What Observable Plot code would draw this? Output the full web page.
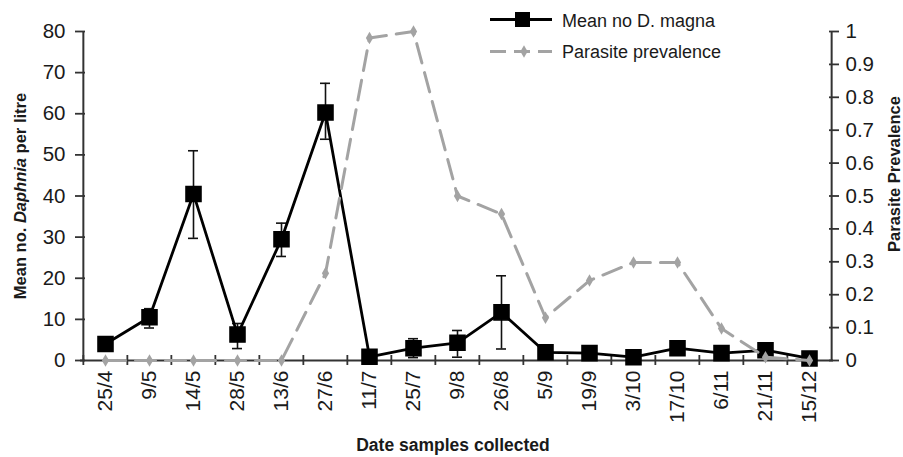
<!DOCTYPE html>
<html>
<head>
<meta charset="utf-8">
<script src="https://cdn.jsdelivr.net/npm/d3@7"></script>
<script src="https://cdn.jsdelivr.net/npm/@observablehq/plot@0.6"></script>
<style>
  html, body { margin: 0; padding: 0; background: #fff; }
  #chart svg { display: block; }
</style>
</head>
<body>
<div id="chart"></div>
<script>
// ---- data ----
const dates = ["25/4","9/5","14/5","28/5","13/6","27/6","11/7","25/7","9/8","26/8","5/9","19/9","3/10","17/10","6/11","21/11","15/12"];
const meanDaphnia = [4, 10.5, 40.5, 6.3, 29.5, 60.3, 0.9, 3, 4.3, 11.7, 2, 1.8, 0.8, 3, 1.8, 2.5, 0.5];
const errUpper = [null, 12.6, 51, 9, 33.4, 67.4, null, 5.3, 7.3, 20.6, null, null, null, null, null, null, null];
const errLower = [null, 7.9, 29.7, 2.9, 25.3, 53.8, null, 0.7, 0.8, 2.8, null, null, null, null, null, null, null];
const prevalence = [0, 0, 0, 0, 0, 0.265, 0.98, 1.0, 0.5, 0.445, 0.13, 0.243, 0.298, 0.298, 0.097, 0.01, 0];
const leftTicks = [0, 10, 20, 30, 40, 50, 60, 70, 80];
const rightTicks = [0, 0.1, 0.2, 0.3, 0.4, 0.5, 0.6, 0.7, 0.8, 0.9, 1];
const leftMax = 80;
const legendLabels = ["Mean no D. magna", "Parasite prevalence"];
const xTitle = "Date samples collected";
const rightTitle = "Parasite Prevalence";

// ---- build ----
const rows = dates.map((d, i) => ({date: d, mean: meanDaphnia[i], hi: errUpper[i], lo: errLower[i], prev: prevalence[i] * leftMax}));
const errRows = rows.filter(r => r.hi != null);

const W = 903, H = 457, mL = 80, mR = 70, mT = 31, mB = 97;
const step = (W - mL - mR) / dates.length;
const font = "'Liberation Sans', Arial, Helvetica, sans-serif";
const axisColor = "#333";
const gray = "#a3a3a3";
const ink = "#1a1a1a";

const chart = Plot.plot({
  width: W, height: H,
  marginLeft: mL, marginRight: mR, marginTop: mT, marginBottom: mB,
  style: {fontFamily: font, fontSize: "20px", color: ink, background: "#fff"},
  x: {type: "point", domain: dates, padding: 0.5, label: null},
  y: {domain: [0, leftMax], label: null},
  marks: [
    // axis lines
    Plot.ruleY([0], {stroke: axisColor, strokeWidth: 2}),
    Plot.ruleX([dates[0]], {y1: 0, y2: leftMax, dx: -step / 2, stroke: axisColor, strokeWidth: 2}),
    Plot.ruleX([dates[dates.length - 1]], {y1: 0, y2: leftMax, dx: step / 2, stroke: axisColor, strokeWidth: 2}),
    // left axis
    Plot.axisY(leftTicks, {anchor: "left", tickSize: 0, tickPadding: 15, label: null, fontSize: 20.5}),
    Plot.axisY(leftTicks, {anchor: "left", tickSize: 10, dx: 5, tickFormat: () => "", label: null, stroke: axisColor, strokeWidth: 1.8}),
    // right axis
    Plot.axisY(rightTicks.map(v => v * leftMax), {anchor: "right", tickSize: 0, tickPadding: 12, label: null, fontSize: 20.5,
      tickFormat: v => String(+(v / leftMax).toFixed(1))}),
    Plot.axisY(rightTicks.map(v => v * leftMax), {anchor: "right", tickSize: 10, dx: -5, tickFormat: () => "", label: null, stroke: axisColor, strokeWidth: 1.8}),
    // x axis
    Plot.axisX({tickSize: 0, tickPadding: 10, tickRotate: -90, label: null, fontSize: 21}),
    Plot.axisX({tickSize: 10, dy: -5, dx: -step / 2, tickFormat: () => "", label: null, stroke: axisColor, strokeWidth: 1.8}),
    // error bars
    Plot.ruleX(errRows, {x: "date", y1: "lo", y2: "hi", stroke: "#111", strokeWidth: 1.6}),
    Plot.ruleY(errRows, {y: "hi", x1: "date", x2: "date", insetLeft: -5, insetRight: -5, stroke: "#111", strokeWidth: 1.6}),
    Plot.ruleY(errRows, {y: "lo", x1: "date", x2: "date", insetLeft: -5, insetRight: -5, stroke: "#111", strokeWidth: 1.6}),
    // mean Daphnia
    Plot.line(rows, {x: "date", y: "mean", stroke: "#000", strokeWidth: 2.8}),
    Plot.dot(rows, {x: "date", y: "mean", symbol: "square", r: 8.5, fill: "#000", stroke: "#000"}),
    // prevalence
    Plot.line(rows, {x: "date", y: "prev", stroke: gray, strokeWidth: 3, strokeDasharray: "20,10"}),
    Plot.dot(rows, {x: "date", y: "prev", symbol: "diamond", r: 3.8, fill: gray, stroke: "none"})
  ]
});

document.getElementById("chart").appendChild(chart);

// ---- titles & legend ----
const svg = d3.select(chart);
const g = svg.append("g").attr("font-family", font).attr("fill", ink);

// left title with italic Daphnia
const lt = g.append("text")
  .attr("transform", "translate(26,196) rotate(-90)")
  .attr("text-anchor", "middle").attr("font-weight", "bold").attr("font-size", 16.5);
lt.append("tspan").text("Mean no. ");
lt.append("tspan").attr("font-style", "italic").text("Daphnia");
lt.append("tspan").text(" per litre");

g.append("text")
  .attr("transform", "translate(900,174) rotate(-90)")
  .attr("text-anchor", "middle").attr("font-weight", "bold").attr("font-size", 16.5)
  .text(rightTitle);

g.append("text")
  .attr("x", 453).attr("y", 451)
  .attr("text-anchor", "middle").attr("font-weight", "bold").attr("font-size", 17.5)
  .text(xTitle);

// legend
const lg = svg.append("g").attr("font-family", font).attr("text-anchor", "start");
lg.append("line").attr("x1", 490).attr("x2", 552).attr("y1", 19.5).attr("y2", 19.5).attr("stroke", "#000").attr("stroke-width", 2.8);
lg.append("rect").attr("x", 515).attr("y", 12).attr("width", 15).attr("height", 15).attr("fill", "#000");
lg.append("text").attr("x", 562).attr("y", 27).attr("font-size", 18).attr("fill", ink).attr("text-anchor", "start").text(legendLabels[0]);
lg.append("line").attr("x1", 490).attr("x2", 552).attr("y1", 51.5).attr("y2", 51.5).attr("stroke", gray).attr("stroke-width", 3).attr("stroke-dasharray", "16,8");
lg.append("path").attr("d", d3.symbol(d3.symbolDiamond, Math.PI * 3.8 * 3.8)()).attr("transform", "translate(524,51.5)").attr("fill", gray);
lg.append("text").attr("x", 562).attr("y", 58).attr("font-size", 18).attr("fill", ink).attr("text-anchor", "start").text(legendLabels[1]);
</script>
</body>
</html>
